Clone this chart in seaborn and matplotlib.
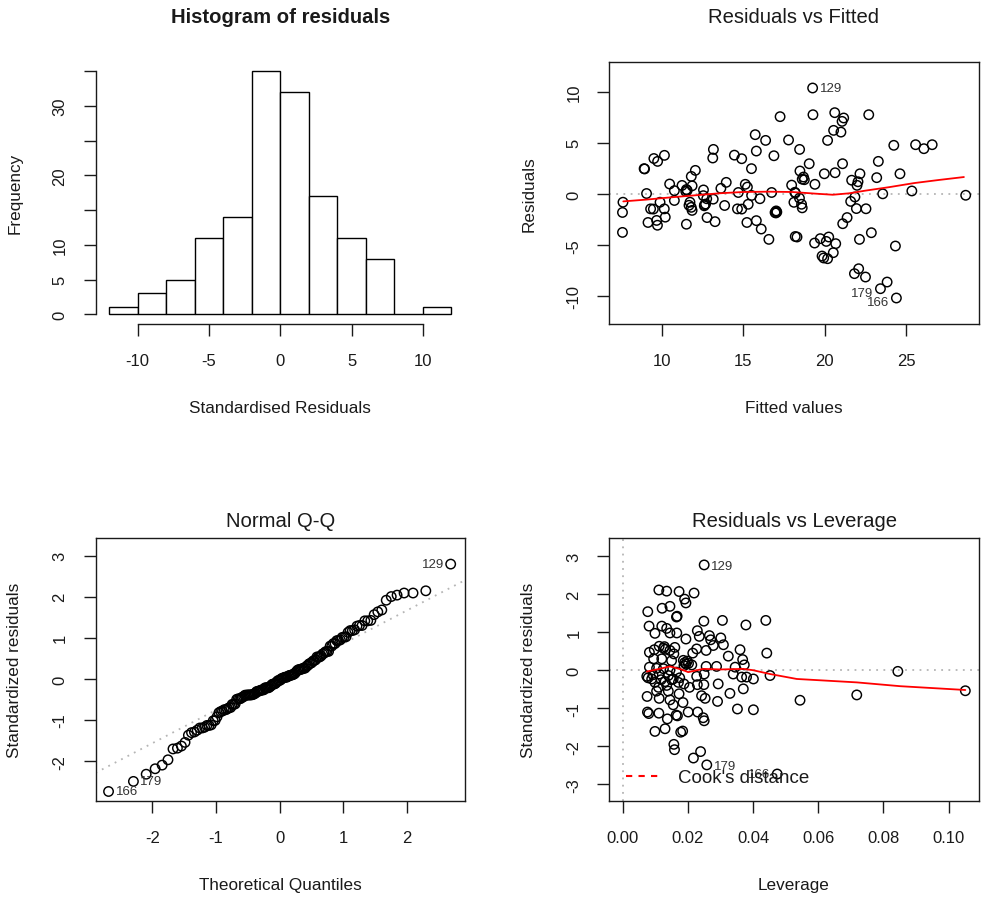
import numpy as np
import pandas as pd
import matplotlib
matplotlib.use("Agg")
import matplotlib.pyplot as plt
from matplotlib.lines import Line2D
import seaborn as sns
from statistics import NormalDist

# ---------------- data ----------------
HIST_EDGES = [-12, -10, -8, -6, -4, -2, 0, 2, 4, 6, 8, 10, 12]
HIST_COUNTS = [1, 3, 5, 11, 14, 35, 32, 17, 11, 8, 0, 1]

FITTED = [7.60, 7.57, 7.57, 8.90, 8.93, 9.05, 9.14, 9.30, 9.47, 9.50,
          9.73, 9.67, 9.72, 9.88, 10.14, 10.15, 10.20, 10.47, 10.76, 10.76,
          11.23, 11.46, 11.50, 11.50, 11.66, 11.72, 11.80, 11.85, 11.80, 11.85,
          12.05, 12.55, 12.54, 12.62, 12.68, 12.77, 12.75, 13.12, 13.16, 13.15,
          13.26, 13.62, 13.95, 13.85, 14.45, 14.64, 14.69, 14.90, 14.90, 15.12,
          15.25, 15.22, 15.30, 15.50, 15.51, 15.73, 15.80, 15.80, 16.02, 16.10,
          16.37, 16.57, 16.74, 16.88, 16.95, 17.02, 17.06, 17.26, 17.78, 17.97,
          18.11, 18.17, 18.19, 18.30, 18.45, 18.46, 18.48, 18.62, 18.70, 18.75,
          18.58, 18.62, 19.05, 19.26, 19.28, 19.38, 19.40, 19.73, 19.84, 19.94,
          19.98, 20.10, 20.18, 20.25, 20.18, 20.53, 20.55, 20.62, 20.64, 20.68,
          21.00, 21.07, 21.10, 21.11, 21.17, 21.38, 21.60, 21.66, 21.83, 21.86,
          21.95, 21.99, 22.05, 22.09, 22.14, 22.17, 22.51, 22.54, 22.71, 22.87,
          23.20, 23.30, 23.43, 23.57, 23.84, 24.25, 24.35, 24.41, 24.63, 25.36,
          25.59, 26.10, 26.61, 28.67, 11.55, 12.60, 17.00, 18.20]
RESID = [-0.80, -1.80, -3.75, 2.48, 2.45, 0.05, -2.78, -1.45, -1.47, 3.47,
         3.19, -2.58, -3.05, -0.80, -1.45, 3.78, -2.26, 0.98, 0.33, -0.63,
         0.84, 0.26, 0.44, -2.95, -1.10, -0.80, -1.30, -1.60, 1.72, 0.80,
         2.31, 0.40, -0.16, -1.05, -0.98, -2.30, -0.46, 3.52, 4.36, -0.50,
         -2.70, 0.55, 1.14, -1.12, 3.80, -1.45, 0.15, -1.47, 3.45, 0.95,
         0.68, -2.78, -1.00, 2.48, -0.14, 5.80, 4.20, -2.60, -0.46, -3.42,
         5.24, -4.43, 0.15, 3.74, -1.80, -1.65, -1.76, 7.56, 5.28, 0.87,
         -0.81, 0.17, -4.15, -4.20, -0.40, 4.36, 2.25, 1.45, 1.66, 1.40,
         -1.00, -1.35, 2.96, 10.36, 7.75, -4.79, 0.95, -4.36, -6.06, -6.25,
         1.98, -4.63, 5.24, -4.20, -6.32, -5.73, 6.22, 7.95, 2.08, -4.85,
         6.05, 7.10, 2.96, -2.90, 7.43, -2.30, -0.72, 1.35, -7.78, -0.29,
         -1.42, 0.85, 1.20, -7.30, -4.43, 1.98, -8.11, -1.44, 7.75, -3.78,
         1.60, 3.19, -9.25, 0.02, -8.60, 4.76, -5.08, -10.16, 1.98, 0.30,
         4.82, 4.43, 4.82, -0.12, 0.35, -1.15, -1.85, 0.10]
RESID_IDS = {"129": 83, "179": 122, "166": 127}
RESID_SCALE = 3.71  # residual standard error

SMOOTH_FIT_X = [7.62, 9.0, 10.5, 12.0, 13.5, 15.0, 16.5, 18.0, 19.5, 20.5,
                21.5, 22.5, 24.0, 25.5, 27.0, 28.56]
SMOOTH_FIT_Y = [-0.72, -0.55, -0.33, -0.13, 0.07, 0.20, 0.23, 0.20, 0.03, -0.07,
                0.07, 0.33, 0.68, 1.07, 1.37, 1.66]

LEVERAGE = [0.0250, 0.0077, 0.0111, 0.0135, 0.0173, 0.0190, 0.0194, 0.0219, 0.0121, 0.0145,
            0.0165, 0.0167, 0.0081, 0.0099, 0.0120, 0.0135, 0.0145, 0.0166, 0.0194, 0.0229,
            0.0249, 0.0235, 0.0266, 0.0278, 0.0301, 0.0306, 0.0309, 0.0378, 0.0439, 0.0442,
            0.0360, 0.0324, 0.0368, 0.0373, 0.0452, 0.0227, 0.0256, 0.0082, 0.0097, 0.0112,
            0.0125, 0.0128, 0.0131, 0.0145, 0.0157, 0.0186, 0.0190, 0.0194, 0.0198, 0.0188,
            0.0202, 0.0212, 0.0082, 0.0074, 0.0078, 0.0089, 0.0093, 0.0099, 0.0104, 0.0112,
            0.0118, 0.0125, 0.0130, 0.0140, 0.0145, 0.0150, 0.0155, 0.0165, 0.0171, 0.0175,
            0.0188, 0.0227, 0.0229, 0.0249, 0.0250, 0.0256, 0.0288, 0.0293, 0.0339, 0.0345,
            0.0365, 0.0380, 0.0401, 0.0329, 0.0370, 0.0291, 0.0253, 0.0242, 0.0075, 0.0104,
            0.0112, 0.0140, 0.0145, 0.0155, 0.0173, 0.0201, 0.0230, 0.0247, 0.0250, 0.0352,
            0.0401, 0.0544, 0.0076, 0.0080, 0.0111, 0.0137, 0.0164, 0.0168, 0.0099, 0.0130,
            0.0178, 0.0184, 0.0157, 0.0159, 0.0217, 0.0239, 0.0258, 0.0474, 0.0844, 0.0718,
            0.1051, 0.0095, 0.0120, 0.0150, 0.0160, 0.0205, 0.0185, 0.0110, 0.0135, 0.0215,
            0.0270]
STD_RESID_LEV = [2.77, 1.54, 2.11, 2.08, 2.07, 1.87, 1.77, 2.03, 1.63, 1.68,
                 1.40, 1.42, 1.16, 0.97, 1.16, 1.10, 0.98, 0.98, 0.82, 1.04,
                 1.29, 0.89, 0.91, 0.65, 0.85, 1.31, 0.67, 1.19, 1.31, 0.45,
                 0.54, 0.37, 0.28, 0.14, -0.14, 0.56, 0.52, 0.47, 0.54, 0.63,
                 0.58, 0.62, 0.55, 0.52, 0.43, 0.26, 0.20, 0.16, 0.24, 0.12,
                 0.18, 0.14, 0.08, -0.16, -0.20, -0.23, -0.12, -0.32, 0.05, -0.10,
                 -0.25, 0.04, -0.30, -0.14, 0.00, -0.25, -0.23, -0.05, -0.32, -0.20,
                 -0.36, -0.16, -0.38, -0.38, -0.10, 0.10, 0.10, -0.36, -0.10, 0.08,
                 -0.18, -0.18, -0.23, -0.61, -0.49, -0.82, -0.74, -0.67, -0.69, -0.55,
                 -0.74, -0.55, -0.78, -0.91, -0.62, -1.10, -1.10, -1.25, -1.33, -1.02,
                 -1.04, -0.79, -1.10, -1.14, -1.13, -1.28, -1.18, -1.20, -1.61, -1.54,
                 -1.63, -1.60, -1.95, -2.09, -2.31, -2.14, -2.49, -2.73, -0.03, -0.65,
                 -0.54, 0.30, 0.30, 0.25, 0.60, -0.45, -0.85, -0.45, -0.40, 0.45,
                 0.80]
LEV_IDS = {"129": 0, "179": 116, "166": 117}

SMOOTH_LEV_X = [0.0074, 0.0110, 0.0145, 0.0180, 0.0201, 0.0247, 0.0300, 0.0370, 0.0400,
                0.0452, 0.0534, 0.0616, 0.0718, 0.0851, 0.1051]
SMOOTH_LEV_Y = [-0.035, 0.03, 0.10, 0.02, -0.05, 0.035, 0.02, 0.035, 0.0,
                -0.10, -0.23, -0.27, -0.32, -0.42, -0.52]

# ---------------- styling ----------------
sns.set_theme(style="white")
plt.rcParams["font.family"] = ["Liberation Sans", "DejaVu Sans"]
TXT = "#1a1a1a"
plt.rcParams.update({
    "axes.unicode_minus": False,
    "axes.edgecolor": TXT, "axes.linewidth": 1.0,
    "xtick.color": TXT, "ytick.color": TXT,
    "xtick.labelcolor": TXT, "ytick.labelcolor": TXT,
    "xtick.major.size": 8.6, "ytick.major.size": 8.6,
    "xtick.major.width": 1.0, "ytick.major.width": 1.0,
    "xtick.major.pad": 12.5, "ytick.major.pad": 11.5,
    "xtick.direction": "out", "ytick.direction": "out",
    "xtick.bottom": True, "ytick.left": True,
    "font.size": 12,
})

W, H = 986, 903
fig = plt.figure(figsize=(W / 100, H / 100), dpi=100)
fig.patch.set_facecolor("white")

def frac_axes(x0, y0, x1, y1):
    return fig.add_axes([x0 / W, 1 - y1 / H, (x1 - x0) / W, (y1 - y0) / H])

ax_h = frac_axes(95.5, 62.5, 465.0, 325.0)
ax_r = frac_axes(609.3, 62.5, 978.7, 325.0)
ax_q = frac_axes(95.5, 539.3, 465.0, 802.0)
ax_l = frac_axes(609.3, 539.3, 978.7, 802.0)

TICK_FS = 12
LAB_FS = 12.3
TITLE_FS = 14.6
ID_FS = 9.5
PT = dict(marker="o", s=46, facecolors="none", edgecolor="black", linewidth=1.05, legend=False)

def finish(ax, title, xlabel, ylabel, title_y):
    ax.set_facecolor("white")
    ax.text(0.5, title_y, title, transform=ax.transAxes, ha="center", va="center",
            fontsize=TITLE_FS, color=TXT,
            fontweight="bold" if title.startswith("Histogram") else "normal")
    ax.set_xlabel(xlabel, fontsize=LAB_FS, color=TXT)
    ax.set_ylabel(ylabel, fontsize=LAB_FS, color=TXT)
    ax.xaxis.set_label_coords(0.5, -0.318)
    ax.yaxis.set_label_coords(-0.218, 0.5)
    ax.xaxis.label.set_va("center")
    ax.yaxis.label.set_va("center")
    ax.tick_params(axis="both", labelsize=TICK_FS)
    ax.tick_params(axis="y", labelrotation=90)
    for lbl in ax.get_yticklabels():
        lbl.set_va("center")

# ---------- Histogram ----------
edges = [float(e) for e in HIST_EDGES]
df_h = pd.DataFrame({
    "mid": [(a + b) / 2 for a, b in zip(edges[:-1], edges[1:])],
    "count": [float(c) for c in HIST_COUNTS],
})
sns.histplot(data=df_h, x="mid", weights="count", bins=edges, ax=ax_h,
             color="white", edgecolor="black", linewidth=1.0, alpha=1.0)
ax_h.set_xlim(-12.96, 12.96)
ax_h.set_ylim(-1.4, 36.4)
ax_h.set_xticks([-10, -5, 0, 5, 10])
ax_h.set_yticks([0, 5, 10, 15, 20, 25, 30, 35])
ax_h.set_yticklabels(["0", "5", "10", "", "20", "", "30", ""])
for side in ["top", "right"]:
    ax_h.spines[side].set_visible(False)
ax_h.spines["bottom"].set_bounds(-10, 10)
ax_h.spines["left"].set_bounds(0, 35)
finish(ax_h, "Histogram of residuals", "Standardised Residuals", "Frequency", 1.173)

# ---------- Residuals vs Fitted ----------
ax_r.axhline(0, color="#b5b5b5", lw=1.3, ls=(0, (1, 3)), zorder=0)
df_r = pd.DataFrame({"fitted": FITTED, "resid": RESID})
sns.scatterplot(data=df_r, x="fitted", y="resid", ax=ax_r, **PT)
sns.lineplot(x=SMOOTH_FIT_X, y=SMOOTH_FIT_Y, ax=ax_r, color="red", lw=1.3, sort=True)
ax_r.set_xlim(6.76, 29.47)
ax_r.set_ylim(-12.7, 12.95)
ax_r.set_xticks([10, 15, 20, 25])
ax_r.set_yticks([-10, -5, 0, 5, 10])
for name, idx in RESID_IDS.items():
    fx, ry = FITTED[idx], RESID[idx]
    if name == "129":
        ax_r.annotate(name, (fx, ry), xytext=(5, 0), textcoords="offset points",
                      ha="left", va="center", fontsize=ID_FS, color="#333333")
    else:
        ax_r.annotate(name, (fx, ry), xytext=(-5, -3), textcoords="offset points",
                      ha="right", va="center", fontsize=ID_FS, color="#333333")
finish(ax_r, "Residuals vs Fitted", "Fitted values", "Residuals", 1.173)

# ---------- Normal Q-Q ----------
std = np.array(RESID) / RESID_SCALE
n = len(std)
order = np.argsort(std)
nd = NormalDist()
theo = np.array([nd.inv_cdf((i + 0.5) / n) for i in range(n)])
sample = std[order]
q1, q3 = np.quantile(std, [0.25, 0.75])
z1, z3 = nd.inv_cdf(0.25), nd.inv_cdf(0.75)
slope = (q3 - q1) / (z3 - z1)
inter = q1 - slope * z1
ax_q.axline((0, inter), slope=slope, color="#b5b5b5", lw=1.3, ls=(0, (1, 3)), zorder=0)
sns.scatterplot(x=theo, y=sample, ax=ax_q, **PT)
ax_q.set_xlim(-2.89, 2.91)
ax_q.set_ylim(-2.97, 3.42)
ax_q.set_xticks([-2, -1, 0, 1, 2])
ax_q.set_yticks([-2, -1, 0, 1, 2, 3])
rank_of = {int(orig): r for r, orig in enumerate(order)}
for name, idx in RESID_IDS.items():
    r = rank_of[idx]
    if name == "129":
        ax_q.annotate(name, (theo[r], sample[r]), xytext=(-5, 0), textcoords="offset points",
                      ha="right", va="center", fontsize=ID_FS, color="#333333")
    else:
        ax_q.annotate(name, (theo[r], sample[r]), xytext=(5, 0), textcoords="offset points",
                      ha="left", va="center", fontsize=ID_FS, color="#333333")
finish(ax_q, "Normal Q-Q", "Theoretical Quantiles", "Standardized residuals", 1.066)

# ---------- Residuals vs Leverage ----------
ax_l.axhline(0, color="#b5b5b5", lw=1.3, ls=(0, (1, 3)), zorder=0)
ax_l.axvline(0, color="#b5b5b5", lw=1.3, ls=(0, (1, 3)), zorder=0)
df_l = pd.DataFrame({"lev": LEVERAGE, "std": STD_RESID_LEV})
sns.scatterplot(data=df_l, x="lev", y="std", ax=ax_l, **PT)
sns.lineplot(x=SMOOTH_LEV_X, y=SMOOTH_LEV_Y, ax=ax_l, color="red", lw=1.3, sort=True)
ax_l.set_xlim(-0.0041, 0.1092)
ax_l.set_ylim(-3.44, 3.47)
ax_l.set_xticks([0.0, 0.02, 0.04, 0.06, 0.08, 0.10])
ax_l.set_xticklabels(["0.00", "0.02", "0.04", "0.06", "0.08", "0.10"])
ax_l.set_yticks([-3, -2, -1, 0, 1, 2, 3])
for name, idx in LEV_IDS.items():
    lx, ly = LEVERAGE[idx], STD_RESID_LEV[idx]
    if name == "166":
        ax_l.annotate(name, (lx, ly), xytext=(-5, 0), textcoords="offset points",
                      ha="right", va="center", fontsize=ID_FS, color="#333333")
    else:
        ax_l.annotate(name, (lx, ly), xytext=(5, -1), textcoords="offset points",
                      ha="left", va="center", fontsize=ID_FS, color="#333333")
leg = ax_l.legend(handles=[Line2D([], [], color="red", lw=1.5, ls=(0, (3, 3)))],
                  labels=["Cook's distance"], loc="center left",
                  bbox_to_anchor=(0.045, 0.088), frameon=False, fontsize=13.5,
                  handlelength=1.9, handletextpad=0.9, borderpad=0, borderaxespad=0)
for t in leg.get_texts():
    t.set_color(TXT)
finish(ax_l, "Residuals vs Leverage", "Leverage", "Standardized residuals", 1.066)

fig.savefig("out.png", dpi=100, facecolor="white")
